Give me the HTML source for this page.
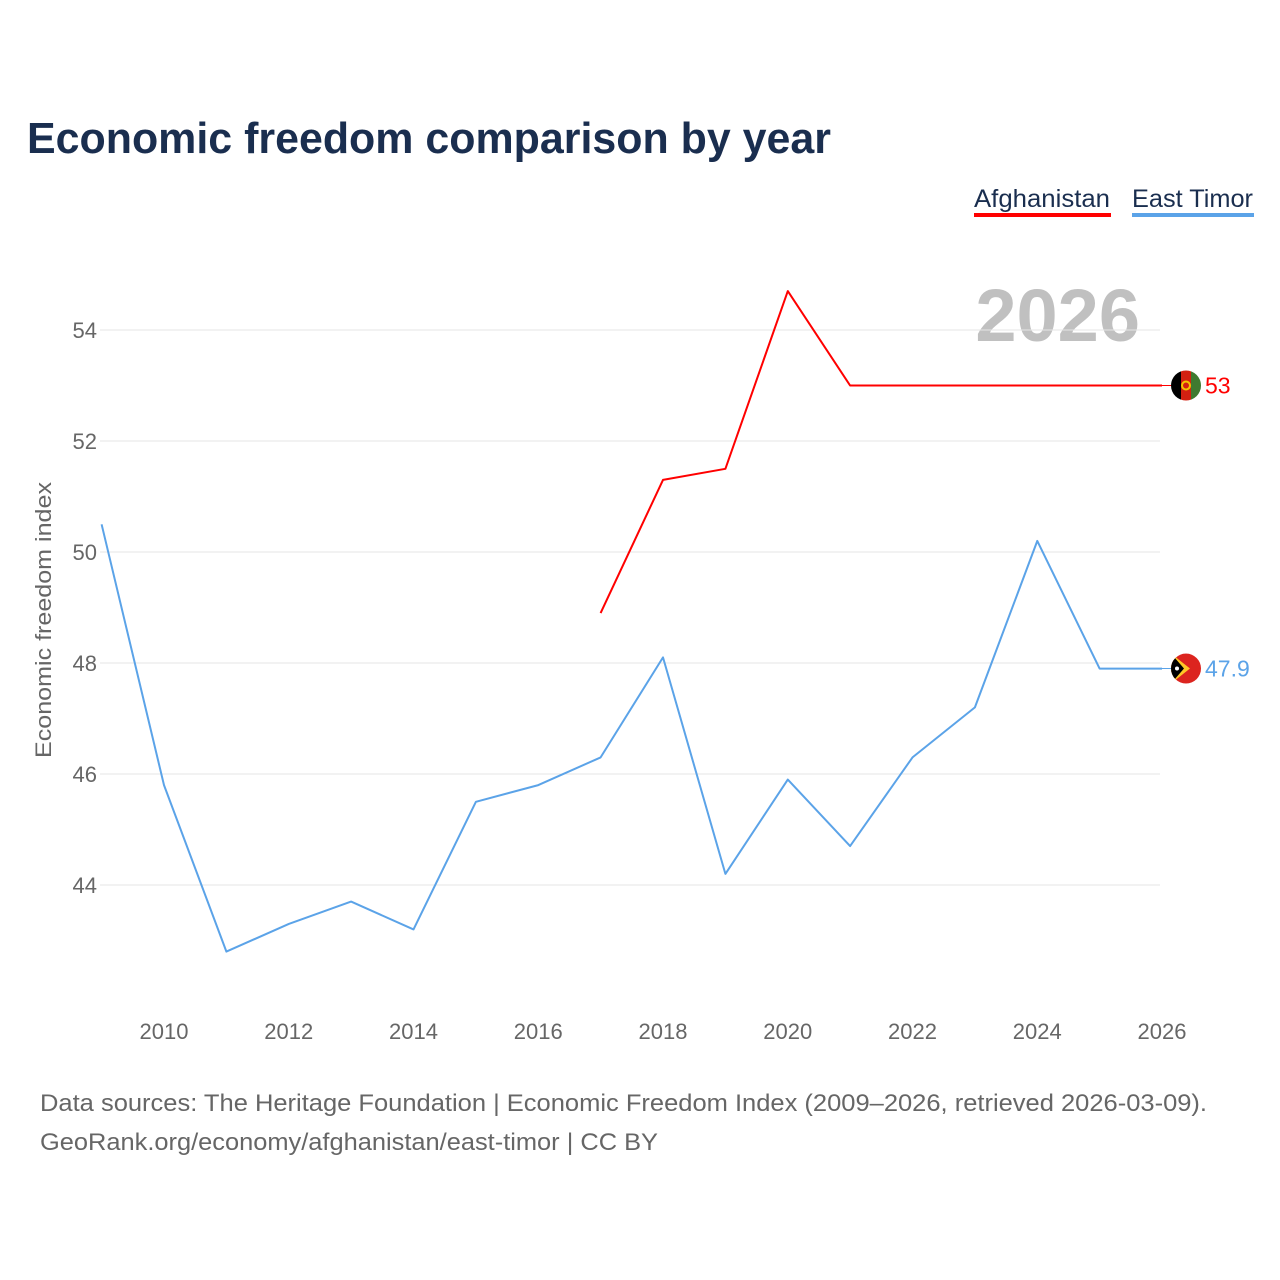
<!DOCTYPE html>
<html><head><meta charset="utf-8">
<style>
body{margin:0;background:#fff;font-family:"Liberation Sans",sans-serif;}
#wrap{position:relative;width:1280px;height:1280px;overflow:hidden;}
</style></head>
<body>
<div id="wrap">
<svg id="chart" width="1280" height="1280">
<text x="27" y="153" font-size="44" font-weight="bold" fill="#1a2e4f" textLength="804" lengthAdjust="spacingAndGlyphs">Economic freedom comparison by year</text>
<g>
<text x="974" y="207" font-size="25" fill="#1a2e4f" textLength="136" lengthAdjust="spacingAndGlyphs">Afghanistan</text>
<rect x="974" y="213" width="137" height="4" fill="#ff0000"/>
</g>
<g>
<text x="1132" y="207" font-size="25" fill="#1a2e4f" textLength="121" lengthAdjust="spacingAndGlyphs">East Timor</text>
<rect x="1132" y="213" width="122" height="4" fill="#5ba3e8"/>
</g>
<text x="1140" y="341" font-size="74" font-weight="bold" fill="#c0c0c0" text-anchor="end">2026</text>
<text transform="translate(51,620) rotate(-90)" font-size="22" fill="#666" text-anchor="middle" textLength="276" lengthAdjust="spacingAndGlyphs">Economic freedom index</text>
<g id="grid"></g><g id="yticks"></g><g id="xticks"></g><g id="series"></g>
<text x="40" y="1111" font-size="24" fill="#666" textLength="1167" lengthAdjust="spacingAndGlyphs">Data sources: The Heritage Foundation | Economic Freedom Index (2009–2026, retrieved 2026-03-09).</text>
<text x="40" y="1150" font-size="24" fill="#666" textLength="618" lengthAdjust="spacingAndGlyphs">GeoRank.org/economy/afghanistan/east-timor | CC BY</text>
</svg>
</div>
<script>
const years=[2009,2010,2011,2012,2013,2014,2015,2016,2017,2018,2019,2020,2021,2022,2023,2024,2025,2026];
const eastTimor=[50.5,45.8,42.8,43.3,43.7,43.2,45.5,45.8,46.3,48.1,44.2,45.9,44.7,46.3,47.2,50.2,47.9,47.9];
const afghanistan=[null,null,null,null,null,null,null,null,48.9,51.3,51.5,54.7,53.0,53.0,53.0,53.0,53.0,53.0];
const yTicks=[44,46,48,50,52,54];
const xTicks=[2010,2012,2014,2016,2018,2020,2022,2024,2026];
const NS="http://www.w3.org/2000/svg";
const x=v=>164+(v-2010)*(1162-164)/16;
const y=v=>330+(54-v)*55.5;
function mk(t,a,p){const e=document.createElementNS(NS,t);for(const k in a)e.setAttribute(k,a[k]);p.appendChild(e);return e;}
const grid=document.getElementById('grid'),yt=document.getElementById('yticks'),xt=document.getElementById('xticks'),se=document.getElementById('series');
yTicks.forEach(v=>{
 const l=mk('line',{x1:100,x2:1160,y1:y(v),y2:y(v),stroke:'#e6e6e6','stroke-width':1},grid);
 
 
 const t=mk('text',{x:97,y:y(v)+8,'font-size':22,fill:'#666','text-anchor':'end'},yt);t.textContent=v;
 
 
});
xTicks.forEach(v=>{
 const t=mk('text',{x:x(v),y:1039,'font-size':22,fill:'#666','text-anchor':'middle'},xt);t.textContent=v;
 
 
});
function line(vals,color,name){
 let d='';vals.forEach((v,i)=>{if(v==null)return;d+=(d?'L':'M')+x(years[i]).toFixed(1)+','+y(v).toFixed(1);});
 const p=mk('path',{d:d,fill:'none',stroke:color,'stroke-width':2,'stroke-linejoin':'round'},se);
 
 
}
line(eastTimor,'#5ba3e8','east-timor');
line(afghanistan,'#ff0000','afghanistan');
function endLabel(vals,color,name,flag){
 const v=vals[vals.length-1],cx=1186,cy=y(v);
 const g=mk('g',{},se);
 
 
 mk('line',{x1:x(years[years.length-1]),x2:cx,y1:cy,y2:cy,stroke:color,'stroke-width':1},g);
 const cp=mk('clipPath',{id:'c'+name},g);mk('circle',{cx:cx,cy:cy,r:15},cp);
 const f=mk('g',{'clip-path':'url(#c'+name+')'},g);
 flag(f,cx,cy);
 const t=mk('text',{x:1205,y:cy+8,'font-size':23,fill:color},g);t.textContent=String(v%1===0?v.toFixed(0):v);
}
endLabel(afghanistan,'#ff0000','afghanistan',(f,cx,cy)=>{
 mk('rect',{x:cx-15,y:cy-15,width:10,height:30,fill:'#000'},f);
 mk('rect',{x:cx-5,y:cy-15,width:10,height:30,fill:'#d32011'},f);
 mk('rect',{x:cx+5,y:cy-15,width:10,height:30,fill:'#3f7a30'},f);
 mk('circle',{cx:cx,cy:cy,r:4,fill:'none',stroke:'#f4c400','stroke-width':2},f);
});
endLabel(eastTimor,'#5ba3e8','east-timor',(f,cx,cy)=>{
 mk('rect',{x:cx-15,y:cy-15,width:30,height:30,fill:'#dc241f'},f);
 mk('polygon',{points:`${cx-15},${cy-15} ${cx+4},${cy} ${cx-15},${cy+15}`,fill:'#ffc726'},f);
 mk('polygon',{points:`${cx-15},${cy-15} ${cx-2},${cy} ${cx-15},${cy+15}`,fill:'#000'},f);
 mk('circle',{cx:cx-9,cy:cy,r:2,fill:'#fff'},f);
});
</script>
</body></html>
